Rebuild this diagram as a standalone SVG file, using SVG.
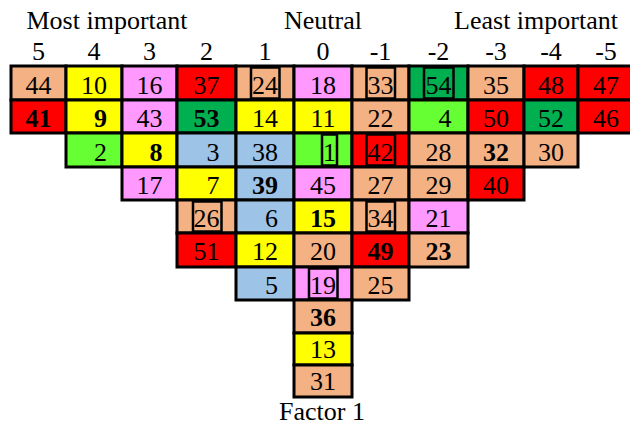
<svg xmlns="http://www.w3.org/2000/svg" width="630" height="428" viewBox="0 0 630 428">
<style>
text{font-family:"Liberation Serif","Times New Roman",serif;font-size:26px;fill:#000;text-anchor:middle}
.b{font-weight:bold}
.c{stroke:#000;stroke-width:3}
.bx{fill:none;stroke:#000;stroke-width:2.5}
.pe{fill:#F4B183}.ye{fill:#FFFF00}.pi{fill:#FF99FF}.re{fill:#FF0000}.dg{fill:#00B050}.lg{fill:#66FF33}.bl{fill:#9DC3E6}
</style>
<rect width="630" height="428" fill="#fff"/>
<g id="headers">
<text x="107" y="29">Most important</text>
<text x="323" y="29">Neutral</text>
<text x="536" y="29">Least important</text>
<text x="38.5" y="60">5</text><text x="94" y="60">4</text><text x="149.5" y="60">3</text><text x="206.5" y="60">2</text><text x="265" y="60">1</text><text x="323" y="60">0</text><text x="380.5" y="60">-1</text><text x="438.5" y="60">-2</text><text x="496" y="60">-3</text><text x="551" y="60">-4</text><text x="606" y="60">-5</text>
</g>
<g id="row0">
<g id="c44"><rect class="c pe" x="11" y="66" width="55" height="34"/><text x="38.5" y="94">44</text></g>
<g id="c10"><rect class="c ye" x="66" y="66" width="56" height="34"/><text x="94" y="94">10</text></g>
<g id="c16"><rect class="c pi" x="122" y="66" width="55" height="34"/><text x="149.5" y="94">16</text></g>
<g id="c37"><rect class="c re" x="177" y="66" width="59" height="34"/><text x="206.5" y="94">37</text></g>
<g id="c24"><rect class="c pe" x="236" y="66" width="58" height="34"/><rect class="bx" x="251" y="67.5" width="28.5" height="31"/><text x="265" y="94">24</text></g>
<g id="c18"><rect class="c pi" x="294" y="66" width="58" height="34"/><text x="323" y="94">18</text></g>
<g id="c33"><rect class="c pe" x="352" y="66" width="57" height="34"/><rect class="bx" x="366.5" y="67.5" width="28.5" height="31"/><text x="380.5" y="94">33</text></g>
<g id="c54"><rect class="c dg" x="409" y="66" width="59" height="34"/><rect class="bx" x="424" y="67.5" width="29.5" height="31"/><text x="438.5" y="94">54</text></g>
<g id="c35"><rect class="c pe" x="468" y="66" width="56" height="34"/><text x="496" y="94">35</text></g>
<g id="c48"><rect class="c re" x="524" y="66" width="54" height="34"/><text x="551" y="94">48</text></g>
<g id="c47"><rect class="c re" x="578" y="66" width="56" height="34"/><text x="606" y="94">47</text></g>
</g>
<g id="row1">
<g id="c41"><rect class="c re" x="11" y="100" width="55" height="33"/><text class="b" x="38.5" y="127">41</text></g>
<g id="c9"><rect class="c ye" x="66" y="100" width="56" height="33"/><text class="b" x="100.5" y="127">9</text></g>
<g id="c43"><rect class="c pi" x="122" y="100" width="55" height="33"/><text x="149.5" y="127">43</text></g>
<g id="c53"><rect class="c dg" x="177" y="100" width="59" height="33"/><text class="b" x="206.5" y="127">53</text></g>
<g id="c14"><rect class="c ye" x="236" y="100" width="58" height="33"/><text x="265" y="127">14</text></g>
<g id="c11"><rect class="c ye" x="294" y="100" width="58" height="33"/><text x="323" y="127">11</text></g>
<g id="c22"><rect class="c pe" x="352" y="100" width="57" height="33"/><text x="380.5" y="127">22</text></g>
<g id="c4"><rect class="c lg" x="409" y="100" width="59" height="33"/><text x="445" y="127">4</text></g>
<g id="c50"><rect class="c re" x="468" y="100" width="56" height="33"/><text x="496" y="127">50</text></g>
<g id="c52"><rect class="c dg" x="524" y="100" width="54" height="33"/><text x="551" y="127">52</text></g>
<g id="c46"><rect class="c re" x="578" y="100" width="56" height="33"/><text x="606" y="127">46</text></g>
</g>
<g id="row2">
<g id="c2"><rect class="c lg" x="66" y="133" width="56" height="34"/><text x="100.5" y="160.5">2</text></g>
<g id="c8"><rect class="c ye" x="122" y="133" width="55" height="34"/><text class="b" x="156" y="160.5">8</text></g>
<g id="c3"><rect class="c bl" x="177" y="133" width="59" height="34"/><text x="213" y="160.5">3</text></g>
<g id="c38"><rect class="c bl" x="236" y="133" width="58" height="34"/><text x="265" y="160.5">38</text></g>
<g id="c1"><rect class="c lg" x="294" y="133" width="58" height="34"/><rect class="bx" x="322" y="134.5" width="15" height="31"/><text x="329.5" y="160.5">1</text></g>
<g id="c42"><rect class="c re" x="352" y="133" width="57" height="34"/><rect class="bx" x="366.5" y="134.5" width="28.5" height="31"/><text x="380.5" y="160.5">42</text></g>
<g id="c28"><rect class="c pe" x="409" y="133" width="59" height="34"/><text x="438.5" y="160.5">28</text></g>
<g id="c32"><rect class="c pe" x="468" y="133" width="56" height="34"/><text class="b" x="496" y="160.5">32</text></g>
<g id="c30"><rect class="c pe" x="524" y="133" width="54" height="34"/><text x="551" y="160.5">30</text></g>
</g>
<g id="row3">
<g id="c17"><rect class="c pi" x="122" y="167" width="55" height="33"/><text x="149.5" y="193.5">17</text></g>
<g id="c7"><rect class="c ye" x="177" y="167" width="59" height="33"/><text x="213" y="193.5">7</text></g>
<g id="c39"><rect class="c bl" x="236" y="167" width="58" height="33"/><text class="b" x="265" y="193.5">39</text></g>
<g id="c45"><rect class="c pi" x="294" y="167" width="58" height="33"/><text x="323" y="193.5">45</text></g>
<g id="c27"><rect class="c pe" x="352" y="167" width="57" height="33"/><text x="380.5" y="193.5">27</text></g>
<g id="c29"><rect class="c pe" x="409" y="167" width="59" height="33"/><text x="438.5" y="193.5">29</text></g>
<g id="c40"><rect class="c re" x="468" y="167" width="56" height="33"/><text x="496" y="193.5">40</text></g>
</g>
<g id="row4">
<g id="c26"><rect class="c pe" x="177" y="200" width="59" height="33"/><rect class="bx" x="193" y="201.5" width="28.5" height="30"/><text x="206.5" y="227">26</text></g>
<g id="c6"><rect class="c bl" x="236" y="200" width="58" height="33"/><text x="271.5" y="227">6</text></g>
<g id="c15"><rect class="c ye" x="294" y="200" width="58" height="33"/><text class="b" x="323" y="227">15</text></g>
<g id="c34"><rect class="c pe" x="352" y="200" width="57" height="33"/><rect class="bx" x="366.5" y="201.5" width="28.5" height="30"/><text x="380.5" y="227">34</text></g>
<g id="c21"><rect class="c pi" x="409" y="200" width="59" height="33"/><text x="438.5" y="227">21</text></g>
</g>
<g id="row5">
<g id="c51"><rect class="c re" x="177" y="233" width="59" height="34"/><text x="206.5" y="260">51</text></g>
<g id="c12"><rect class="c ye" x="236" y="233" width="58" height="34"/><text x="265" y="260">12</text></g>
<g id="c20"><rect class="c pe" x="294" y="233" width="58" height="34"/><text x="323" y="260">20</text></g>
<g id="c49"><rect class="c re" x="352" y="233" width="57" height="34"/><text class="b" x="380.5" y="260">49</text></g>
<g id="c23"><rect class="c pe" x="409" y="233" width="59" height="34"/><text class="b" x="438.5" y="260">23</text></g>
</g>
<g id="row6">
<g id="c5"><rect class="c bl" x="236" y="267" width="58" height="33"/><text x="271.5" y="293.5">5</text></g>
<g id="c19"><rect class="c pi" x="294" y="267" width="58" height="33"/><rect class="bx" x="309" y="268.5" width="28.5" height="30"/><text x="323" y="293.5">19</text></g>
<g id="c25"><rect class="c pe" x="352" y="267" width="57" height="33"/><text x="380.5" y="293.5">25</text></g>
</g>
<g id="col0tail">
<g id="c36"><rect class="c pe" x="294" y="300" width="58" height="33"/><text class="b" x="323" y="326">36</text></g>
<g id="c13"><rect class="c ye" x="294" y="333" width="58" height="32"/><text x="323" y="358">13</text></g>
<g id="c31"><rect class="c pe" x="294" y="365" width="58" height="32"/><text x="323" y="390">31</text></g>
</g>
<g id="connectors"/>
<text id="caption" x="322" y="420">Factor 1</text>
</svg>
